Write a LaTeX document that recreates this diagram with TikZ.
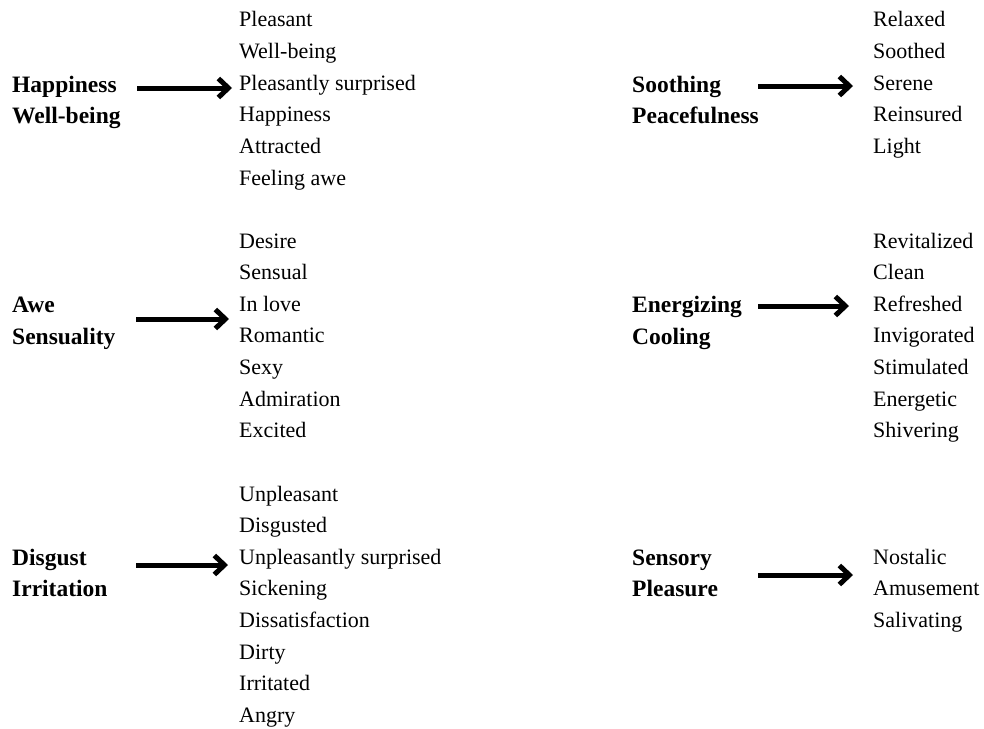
\documentclass[tikz,border=0pt]{standalone}
\usepackage{fontspec}
\setmainfont{Liberation Serif}
\usepackage{tikz}
\usetikzlibrary{arrows.meta}

\tikzset{
  word/.style={anchor=base west,inner sep=0pt,font=\fontsize{22}{26}\selectfont},
  group/.style={anchor=base west,inner sep=0pt,align=left,
    font=\fontsize{23.5}{31.6}\selectfont\bfseries},
  bigarrow/.style={line width=5pt,-{Straight Barb[length=10pt,width=19pt]}}
}

\begin{document}
\begin{tikzpicture}[x=1pt,y=-1pt]
\useasboundingbox (0,0) rectangle (984,728);

% left column
\node[group] (happy) at (12,123.6) {Happiness\\Well-being};
\foreach \w [count=\i] in {Pleasant,Well-being,Pleasantly surprised,Happiness,Attracted,Feeling awe}
  \node[word] (happy\i) at (239,{27+31.6*(\i-1)}) {\w};
\coordinate (happyS) at (137,88);
\coordinate (happyE) at (232,88);
\draw[bigarrow] (happyS) -- (happyE);

\node[group] (awe) at (12,344) {Awe\\Sensuality};
\foreach \w [count=\i] in {Desire,Sensual,In love,Romantic,Sexy,Admiration,Excited}
  \node[word] (awe\i) at (239,{248+31.6*(\i-1)}) {\w};
\coordinate (aweS) at (136,319);
\coordinate (aweE) at (229,319);
\draw[bigarrow] (aweS) -- (aweE);

\node[group] (disgust) at (12,596.6) {Disgust\\Irritation};
\foreach \w [count=\i] in {Unpleasant,Disgusted,Unpleasantly surprised,Sickening,Dissatisfaction,Dirty,Irritated,Angry}
  \node[word] (disgust\i) at (239,{501+31.6*(\i-1)}) {\w};
\coordinate (disgustS) at (136,565);
\coordinate (disgustE) at (228,565);
\draw[bigarrow] (disgustS) -- (disgustE);

% right column
\node[group] (sooth) at (632,123.6) {Soothing\\Peacefulness};
\foreach \w [count=\i] in {Relaxed,Soothed,Serene,Reinsured,Light}
  \node[word] (sooth\i) at (873,{27+31.6*(\i-1)}) {\w};
\coordinate (soothS) at (758,86);
\coordinate (soothE) at (853,86);
\draw[bigarrow] (soothS) -- (soothE);

\node[group] (energy) at (632,344) {Energizing\\Cooling};
\foreach \w [count=\i] in {Revitalized,Clean,Refreshed,Invigorated,Stimulated,Energetic,Shivering}
  \node[word] (energy\i) at (873,{248+31.6*(\i-1)}) {\w};
\coordinate (energyS) at (758,306);
\coordinate (energyE) at (849,306);
\draw[bigarrow] (energyS) -- (energyE);

\node[group] (sensory) at (632,596.6) {Sensory\\Pleasure};
\foreach \w [count=\i] in {Nostalic,Amusement,Salivating}
  \node[word] (sensory\i) at (873,{564+31.6*(\i-1)}) {\w};
\coordinate (sensoryS) at (758,575);
\coordinate (sensoryE) at (853,575);
\draw[bigarrow] (sensoryS) -- (sensoryE);
\end{tikzpicture}
\end{document}
